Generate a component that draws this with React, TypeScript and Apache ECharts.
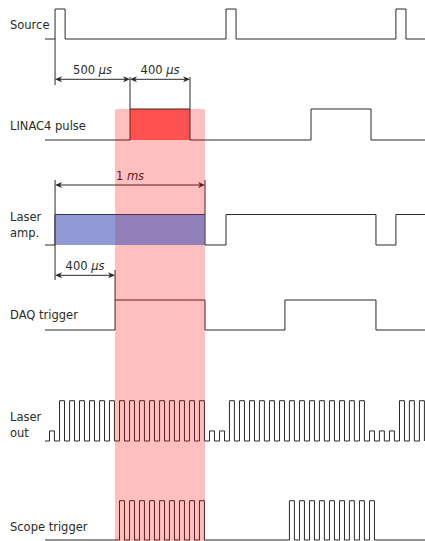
import React, { useEffect, useRef } from "react";
import * as echarts from "echarts";

// ---- data (time in µs, t = 0 at the first source pulse) ----
const T_MIN = -67;
const T_MAX = 2467;

const sourceEdges = [0, 67, 1140, 1207, 2273, 2340];
const linacEdges = [500, 900, 1707, 2107];
const laserAmpEdges = [0, 1000, 1140, 2140, 2273];
const daqEdges = [400, 1000, 1533, 2140];

const laserOutRises = [
  -37, 30, 97, 163, 230, 297, 363, 430, 497, 563, 630, 697, 763, 830, 897, 963,
  1030, 1097, 1163, 1230, 1297, 1363, 1430, 1497, 1563, 1630, 1697, 1763, 1830,
  1897, 1963, 2030, 2097, 2163, 2230, 2297, 2363, 2430,
];
const laserOutAmp = [
  0.25, 1, 1, 1, 1, 1, 1, 1, 1, 1, 1, 1, 1, 1, 1, 1,
  0.25, 0.25, 1, 1, 1, 1, 1, 1, 1, 1, 1, 1, 1,
  1, 1, 1, 0.25, 0.25, 0.25, 1, 1, 1,
];
const laserOutWidth = 33;

const scopeRises = [
  430, 497, 563, 630, 697, 763, 830, 897, 963,
  1563, 1630, 1697, 1763, 1830, 1897, 1963, 2030, 2097,
];
const scopeWidth = 33;

const highlightWindow = [400, 1000];
const linacFill = [500, 900];
const ampFill = [0, 1000];

const dimStart = [0, 500, 0, 0];
const dimEnd = [500, 900, 1000, 400];
const dimValue = ["500", "400", "1", "400"];
const dimUnit = ["µs", "µs", "ms", "µs"];

const laneNames = ["Source", "LINAC4 pulse", "Laser\namp.", "DAQ trigger", "Laser\nout", "Scope trigger"];

// ---- layout ----
const LANES = {
  source: { base: 39, h: 30, labelY: 25 },
  linac: { base: 140, h: 31, labelY: 126 },
  amp: { base: 245, h: 30.5, labelY: 224.5 },
  daq: { base: 330, h: 30, labelY: 315 },
  out: { base: 441, h: 40.3, labelY: 425 },
  scope: { base: 540, h: 39.3, labelY: 527 },
};
const laneOrder = [LANES.source, LANES.linac, LANES.amp, LANES.daq, LANES.out, LANES.scope];
const dimY = [79.3, 79.3, 185, 275.3];
const extLines = [
  { t: 0, y0: LANES.source.base, y1: 85 },
  { t: 500, y0: 77, y1: LANES.linac.base - LANES.linac.h },
  { t: 900, y0: 77, y1: LANES.linac.base - LANES.linac.h },
  { t: 0, y0: 180, y1: 280 },
  { t: 1000, y0: 180, y1: LANES.amp.base - LANES.amp.h },
  { t: 400, y0: 270, y1: LANES.daq.base - LANES.daq.h },
];

const FONT = '"DejaVu Sans", sans-serif';
const INK = "#2a2a2a";

function stepPoints(edges: number[], base: number, h: number) {
  const pts: number[][] = [];
  let level = 0;
  pts.push([T_MIN, base]);
  for (const t of edges) {
    pts.push([t, base - level * h]);
    level = 1 - level;
    pts.push([t, base - level * h]);
  }
  pts.push([T_MAX, base - level * h]);
  return pts;
}

function pulsePoints(rises: number[], amps: number[] | null, width: number, base: number, h: number) {
  const pts: number[][] = [[T_MIN, base]];
  rises.forEach((r, i) => {
    const a = amps ? amps[i] : 1;
    pts.push([r, base], [r, base - a * h], [r + width, base - a * h], [r + width, base]);
  });
  pts.push([T_MAX, base]);
  return pts;
}

function lineSeries(data: number[][]) {
  return {
    type: "line",
    data,
    symbol: "none",
    showSymbol: false,
    silent: true,
    z: 2,
    lineStyle: { color: INK, width: 1 },
  };
}

function rectSeries(data: number[][], fill: string, z: number) {
  return {
    type: "custom",
    silent: true,
    z,
    data,
    renderItem: (_p: any, api: any) => {
      const a = api.coord([api.value(0), api.value(2)]);
      const b = api.coord([api.value(1), api.value(3)]);
      return {
        type: "rect",
        shape: { x: a[0], y: Math.min(a[1], b[1]), width: b[0] - a[0], height: Math.abs(b[1] - a[1]) },
        style: { fill },
      };
    },
  };
}

export default function App() {
  const ref = useRef<HTMLDivElement>(null);
  useEffect(() => {
    document.body.style.margin = "0";
    const chart = echarts.init(ref.current!, null, { renderer: "svg" });

    const dimData = dimStart.map((s, i) => [s, dimEnd[i], dimY[i]]);
    const extData = extLines.map((e) => [e.t, e.y0, e.y1]);

    const option: any = {
      animation: false,
      grid: { left: 45, right: 0, top: 0, bottom: 0 },
      xAxis: { type: "value", min: T_MIN, max: T_MAX, show: false },
      yAxis: { type: "value", min: 0, max: 541, inverse: true, show: false },
      series: [
        rectSeries([[linacFill[0], linacFill[1], LANES.linac.base - LANES.linac.h, LANES.linac.base]], "#ff6b6b", 1),
        lineSeries(stepPoints(sourceEdges, LANES.source.base, LANES.source.h)),
        lineSeries(stepPoints(linacEdges, LANES.linac.base, LANES.linac.h)),
        lineSeries(stepPoints(laserAmpEdges, LANES.amp.base, LANES.amp.h)),
        lineSeries(stepPoints(daqEdges, LANES.daq.base, LANES.daq.h)),
        lineSeries(pulsePoints(laserOutRises, laserOutAmp, laserOutWidth, LANES.out.base, LANES.out.h)),
        lineSeries(pulsePoints(scopeRises, null, scopeWidth, LANES.scope.base, LANES.scope.h)),
        {
          type: "custom",
          silent: true,
          z: 2,
          data: extData,
          renderItem: (_p: any, api: any) => {
            const a = api.coord([api.value(0), api.value(1)]);
            const b = api.coord([api.value(0), api.value(2)]);
            return {
              type: "line",
              shape: { x1: a[0], y1: a[1], x2: b[0], y2: b[1] },
              style: { stroke: INK, lineWidth: 1 },
            };
          },
        },
        {
          type: "custom",
          silent: true,
          z: 2,
          data: dimData,
          renderItem: (p: any, api: any) => {
            const i = p.dataIndex;
            const a = api.coord([api.value(0), api.value(2)]);
            const b = api.coord([api.value(1), api.value(2)]);
            const y = a[1];
            const L = 7, W = 3, N = 5;
            return {
              type: "group",
              children: [
                { type: "line", shape: { x1: a[0] + 2, y1: y, x2: b[0] - 2, y2: y }, style: { stroke: INK, lineWidth: 1 } },
                {
                  type: "polygon",
                  shape: { points: [[a[0], y], [a[0] + L, y - W], [a[0] + N, y], [a[0] + L, y + W]] },
                  style: { fill: INK },
                },
                {
                  type: "polygon",
                  shape: { points: [[b[0], y], [b[0] - L, y - W], [b[0] - N, y], [b[0] - L, y + W]] },
                  style: { fill: INK },
                },
                {
                  type: "text",
                  x: (a[0] + b[0]) / 2,
                  y: y - 9,
                  style: {
                    text: dimValue[i] + " {i|" + dimUnit[i] + "}",
                    fill: INK,
                    fontSize: 11.5,
                    fontFamily: FONT,
                    align: "center",
                    verticalAlign: "middle",
                    rich: { i: { fontStyle: "italic", fontSize: 11.5, fontFamily: FONT, fill: INK } },
                  },
                },
              ],
            };
          },
        },
        rectSeries([[highlightWindow[0], highlightWindow[1], LANES.linac.base - LANES.linac.h, 541]], "rgba(255,0,0,0.25)", 3),
        rectSeries([[ampFill[0], ampFill[1], LANES.amp.base - LANES.amp.h, LANES.amp.base]], "rgba(72,87,183,0.6)", 4),
      ],
      graphic: laneNames.map((name, i) => ({
        type: "text",
        x: 10,
        y: laneOrder[i].labelY,
        silent: true,
        style: {
          text: name,
          fill: INK,
          fontSize: 11.5,
          fontFamily: FONT,
          verticalAlign: "middle",
          lineHeight: 16,
        },
      })),
    };
    chart.setOption(option);
    return () => chart.dispose();
  }, []);
  return <div ref={ref} style={{ width: 425, height: 541 }} />;
}
